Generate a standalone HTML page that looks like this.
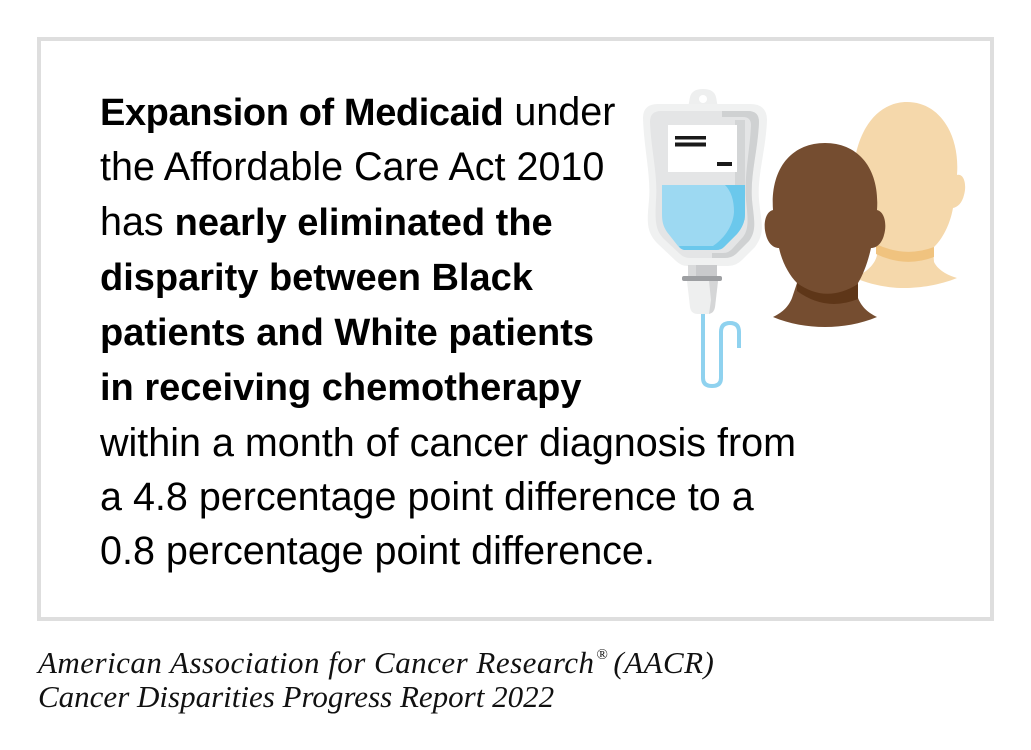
<!DOCTYPE html>
<html>
<head>
<meta charset="utf-8">
<style>
  html, body { margin:0; padding:0; background:#ffffff; }
  body { width:1031px; height:750px; position:relative; overflow:hidden; }
  .box { position:absolute; left:37px; top:37px; width:957px; height:584px; box-sizing:border-box; border:4px solid #dedede; background:#fff; }
  .main { position:absolute; left:100px; top:85.2px; font-family:"Liberation Sans", Arial, sans-serif; font-size:39.5px; line-height:54.25px; color:#000; white-space:nowrap; }
  .main b { font-size:38px; font-weight:700; }
  .main b.l1 { letter-spacing:-0.4px; }
  .foot { position:absolute; left:38px; top:645.5px; font-family:"Liberation Serif", "Times New Roman", serif; font-style:italic; font-size:31px; line-height:34px; color:#111; white-space:nowrap; }
  .foot sup { font-size:15px; line-height:0; vertical-align:0; position:relative; top:-14px; margin-left:2px; margin-right:5px; font-style:normal; }
  .foot .l1 { letter-spacing:0.48px; }
  svg { position:absolute; left:0; top:0; }
</style>
</head>
<body>
<div class="box"></div>

<svg width="1031" height="750" viewBox="0 0 1031 750" xmlns="http://www.w3.org/2000/svg">
  <!-- IV bag -->
  <path d="M688,108 L690,97 Q692,89 703,89 Q714,89 716,97 L718,108 Z" fill="#eeefef"/>
  <circle cx="703" cy="99" r="4" fill="#ffffff"/>
  <path d="M643,118 Q643,104 658,104 L750,104 Q767,104 767,120 C766,150 757,175 759,200 C761,222 766,232 755,247 L742,260 Q736,266 728,266 L688,266 Q681,266 676,261 L658,244 C646,232 647,222 649,200 C651,175 644,150 643,118 Z" fill="#f0f1f1"/>
  <path d="M650,122 Q650,111 661,111 L748,111 Q759,111 759,122 C758,150 750,175 752,200 C754,220 757,230 749,241 L737,253 Q732,258 725,258 L690,258 Q684,258 680,254 L664,239 C655,230 655,220 656,200 C658,175 651,150 650,122 Z" fill="#e4e5e6"/>
  <path d="M722,111 L748,111 Q759,111 759,122 C758,150 750,175 752,200 C754,220 757,230 749,241 L737,253 Q732,258 725,258 L712,258 L712,253 L723,253 Q729,253 733,248 L743,237 C749,229 748,219 746,200 C744,175 750,150 751,125 Q751,117 743,117 L722,117 Z" fill="#cfd1d2"/>
  <rect x="735" y="120" width="10" height="100" fill="#d3d5d6"/>
  <rect x="668" y="125" width="69" height="47" fill="#ffffff"/>
  <rect x="675" y="136" width="31" height="3.5" fill="#1a1a1a"/>
  <rect x="675" y="142.5" width="31" height="4" fill="#1a1a1a"/>
  <rect x="717" y="162" width="15" height="4" fill="#1a1a1a"/>
  <path d="M662,185 L745,185 L745,214 C745,222 742,228 737,234 L724,247 Q721,250 716,250 L686,250 Q681,250 678,246 L667,232 C663,226 662,221 662,214 Z" fill="#9dd9f2"/>
  <path d="M725,185 L745,185 L745,214 C745,222 742,228 737,234 L724,247 Q721,250 716,250 L684,250 Q680,249 679,246 L713,246 C722,240 733,228 734,212 C734,200 731,191 725,185 Z" fill="#6bc8ec"/>
  <path d="M703,310 L703,378 Q703,386 712,386 Q721,386 721,378 L721,332 Q721,323 730,323 Q739,323 739,332 L739,348" fill="none" stroke="#8fd2ef" stroke-width="4"/>
  <rect x="688" y="265" width="29" height="12" fill="#c9cacc"/>
  <rect x="688" y="265" width="8" height="12" fill="#d9dadb"/>
  <rect x="682" y="276" width="40" height="5" rx="2" fill="#9d9fa2"/>
  <path d="M687,281 L718,281 L715,307 Q714,314 707,314 L698,314 Q691,314 690,307 Z" fill="#eeefef"/>
  <path d="M709,281 L718,281 L715,307 Q714,313 709,314 L711,300 Z" fill="#d5d6d7"/>

  <!-- light head -->
  <path d="M853,190 C851,135 875,102 907,102 C940,102 960,135 957,175 C964,173 967,185 964,195 C962,203 958,207 953,208 C950,225 942,240 933,248 L934,262 C938,270 947,275 957,278 C940,285 920,288 905,288 C885,288 870,284 855,278 C866,272 875,265 877,255 L880,248 C865,235 855,215 853,190 Z" fill="#f5d8ab"/>
  <path d="M876,244 Q905,258 934,247 L934,257 Q905,268 876,254 Z" fill="#f0c37f"/>

  <!-- dark head -->
  <path d="M773,210 C770,168 792,143 825,143 C858,143 880,168 877,210 C885,212 887,225 884,235 C882,243 877,248 871,248 C868,262 863,275 858,283 L858,298 C862,308 869,313 877,317 C860,324 843,327 825,327 C807,327 790,324 773,317 C781,313 788,308 792,298 L797,283 C789,275 782,262 779,248 C773,248 768,243 766,235 C763,225 765,212 773,210 Z" fill="#754d30"/>
  <path d="M797,283 Q826,304 858,284 L858,299 Q826,312 797,291 Z" fill="#5e3618"/>
</svg>

<div class="main">
<b class="l1">Expansion of Medicaid</b> under<br>
the Affordable Care Act 2010<br>
has <b>nearly eliminated the</b><br>
<b>disparity between Black</b><br>
<b>patients and White patients</b><br>
<b>in receiving chemotherapy</b><br>
within a month of cancer diagnosis from<br>
a 4.8 percentage point difference to a<br>
0.8 percentage point difference.
</div>

<div class="foot"><span class="l1">American Association for Cancer Research<sup>®</sup>(AACR)</span><br>Cancer Disparities Progress Report 2022</div>
</body>
</html>
